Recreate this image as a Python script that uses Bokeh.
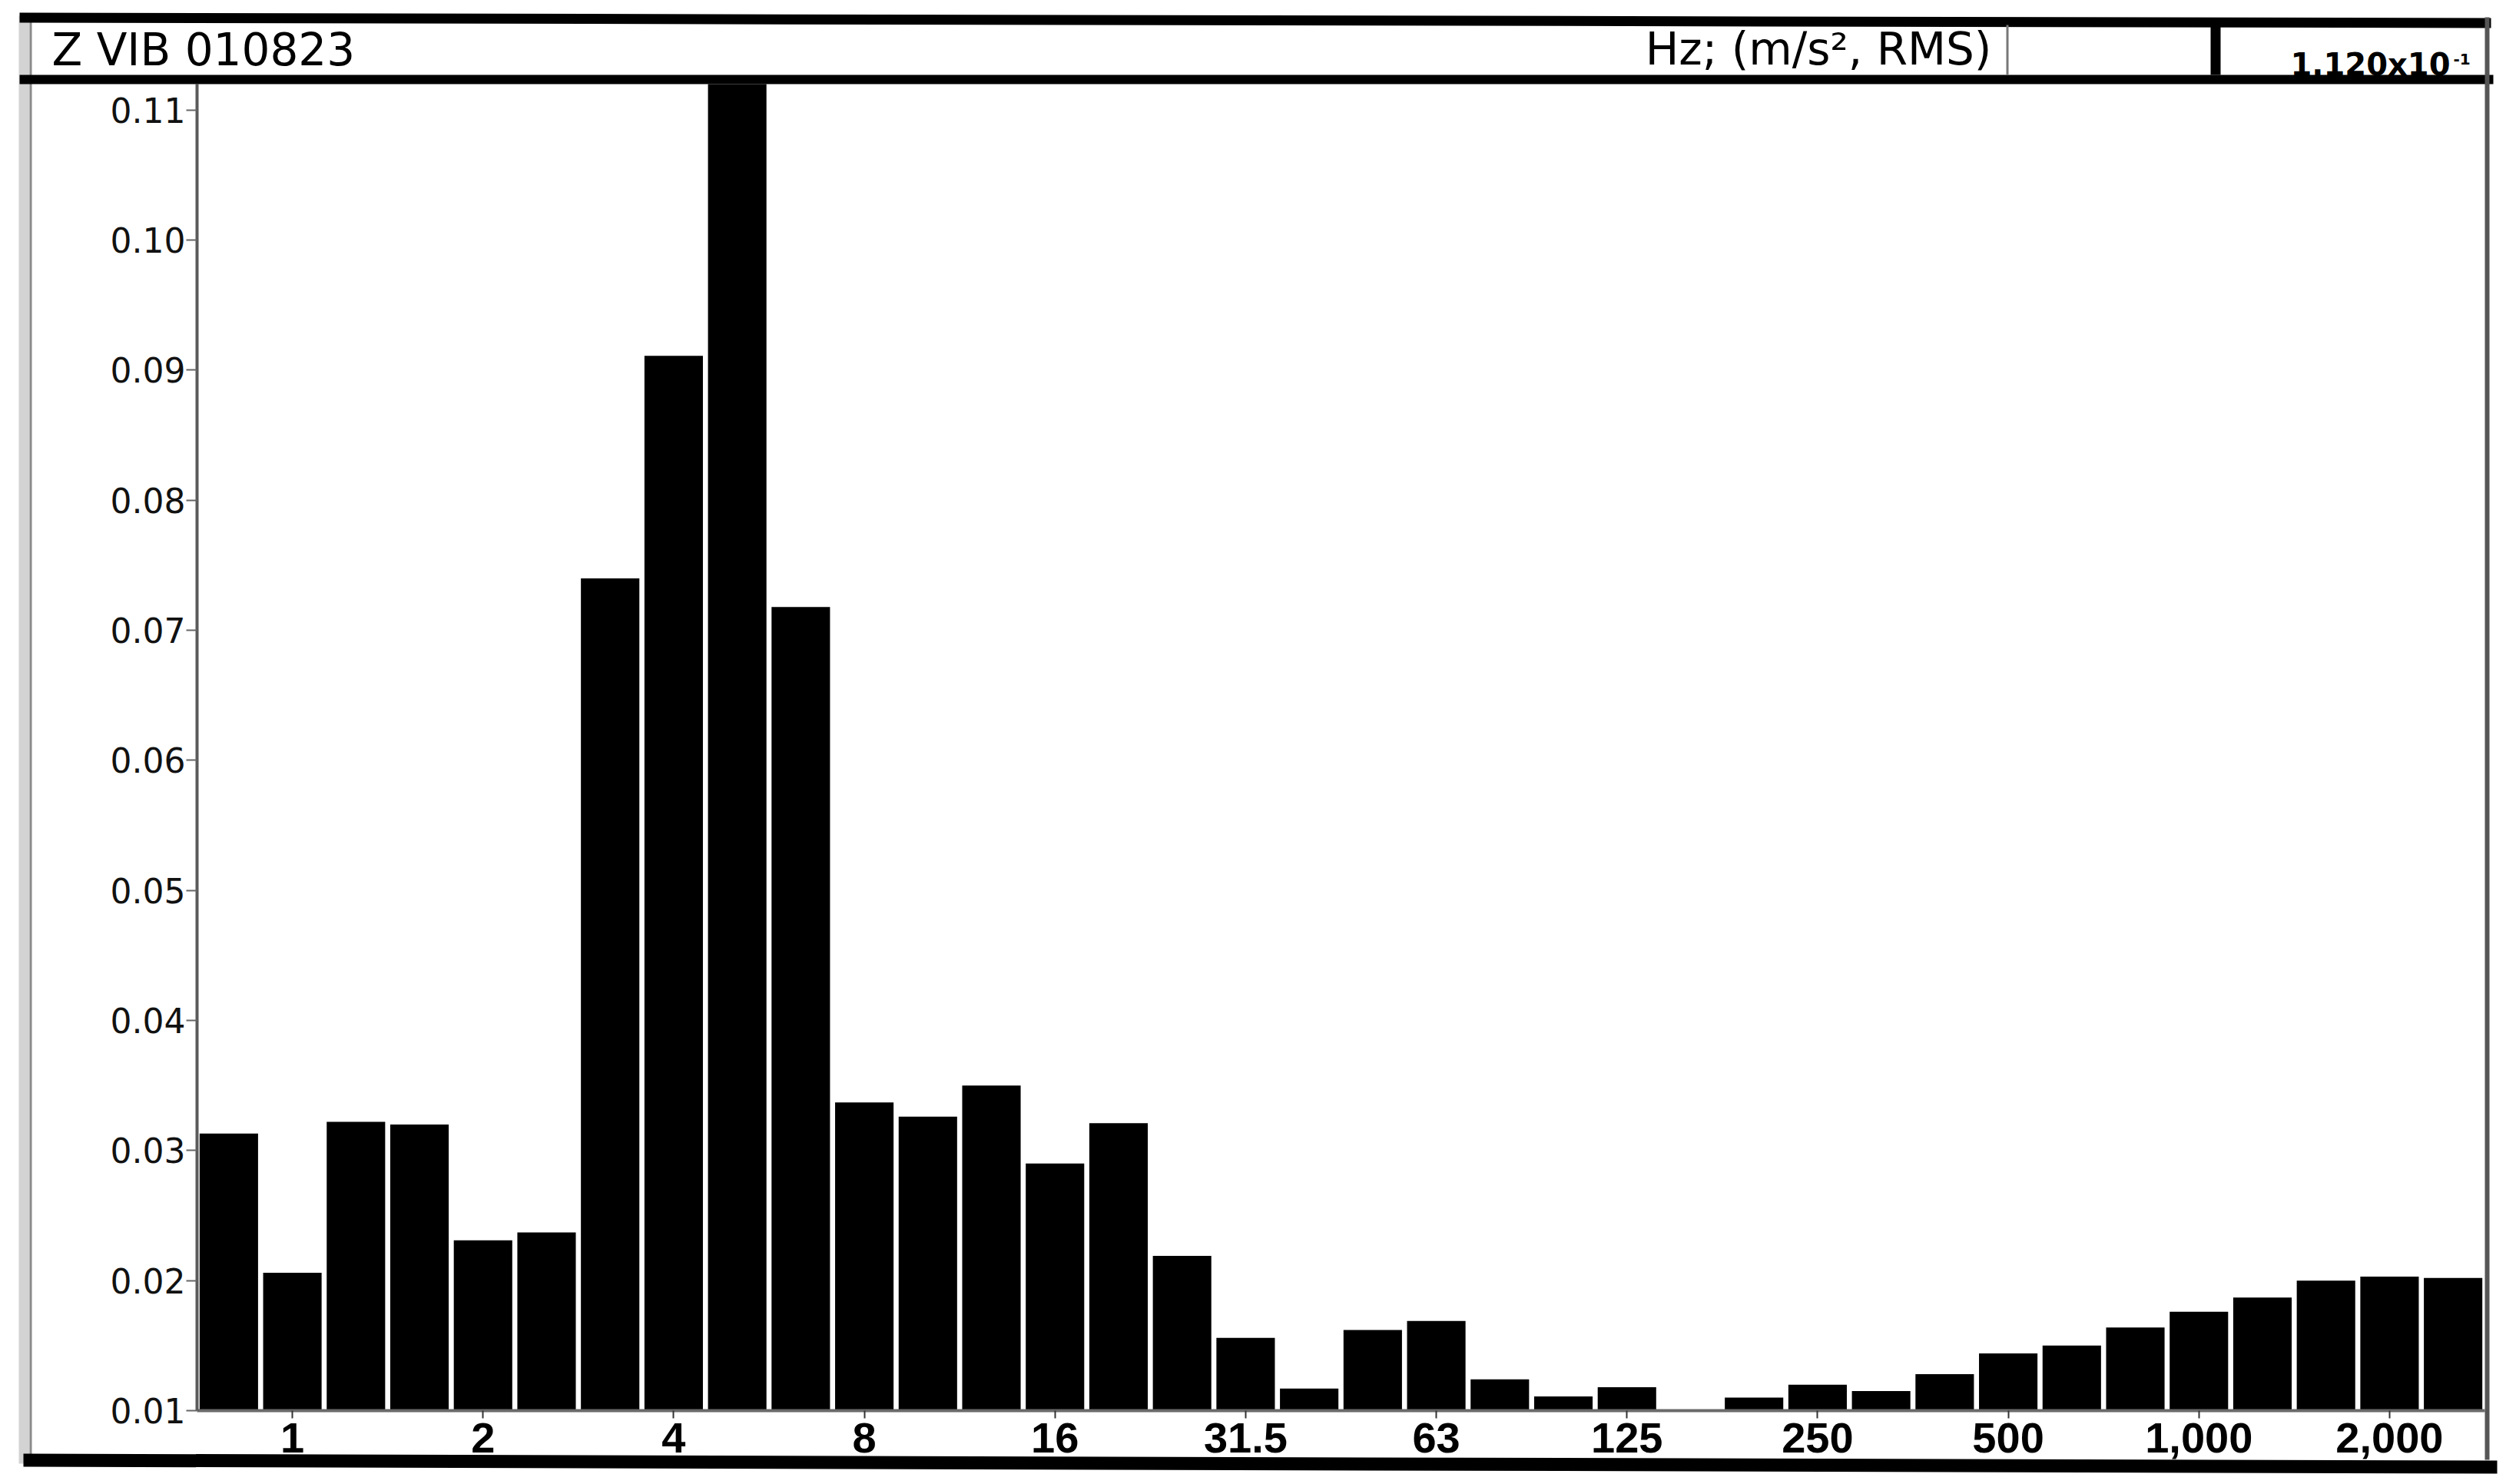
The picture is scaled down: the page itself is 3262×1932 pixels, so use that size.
from bokeh.plotting import figure
from bokeh.models import (Range1d, FixedTicker, PrintfTickFormatter, BoxAnnotation,
                          Label, PolyAnnotation, ColumnDataSource)
from bokeh.embed import file_html
from bokeh.resources import INLINE

# ---------------- data ----------------
bands = ["0.8", "1", "1.25", "1.6", "2", "2.5", "3.15", "4", "5", "6.3",
         "8", "10", "12.5", "16", "20", "25", "31.5", "40", "50", "63",
         "80", "100", "125", "160", "200", "250", "315", "400", "500", "630",
         "800", "1000", "1250", "1600", "2000", "2500"]
values = [0.0313, 0.0206, 0.0322, 0.0320, 0.0231, 0.0237, 0.0740, 0.0911, 0.1120, 0.0718,
          0.0337, 0.0326, 0.0350, 0.0290, 0.0321, 0.0219, 0.0156, 0.0117, 0.0162, 0.0169,
          0.0124, 0.0111, 0.0118, 0.0100, 0.0110, 0.0120, 0.0115, 0.0128, 0.0144, 0.0150,
          0.0164, 0.0176, 0.0187, 0.0200, 0.0203, 0.0202]
tick_bands = ["1", "2", "4", "8", "16", "31.5", "63", "125", "250", "500", "1000", "2000"]
tick_labels = ["1", "2", "4", "8", "16", "31.5", "63", "125", "250", "500", "1,000", "2,000"]
y_ticks = [0.01, 0.02, 0.03, 0.04, 0.05, 0.06, 0.07, 0.08, 0.09, 0.10, 0.11]
y_min, y_max = 0.01, 0.112

title_text = "Z VIB 010823"
unit_text = "Hz; (m/s\u00b2, RMS)"
max_text = "1.120x10"
max_exp = "-1"

# ---------------- layout (canvas pixels) ----------------
W, H = 3262, 1932
PL, PR, PT, PB = 256, 3234, 109, 1836   # plot area edges on the canvas

n = len(bands)
ux = (PR - PL) / n                     # px per band
uy = (PB - PT) / (y_max - y_min)       # px per m/s^2
x0, x1 = -0.5 - PL / ux, n - 0.5 + (W - PR) / ux
y0, y1 = y_min - (H - PB) / uy, y_max + PT / uy

src = ColumnDataSource(dict(x=list(range(n)), top=values, band=bands))

p = figure(width=W, height=H, output_backend="svg", toolbar_location=None,
           x_range=Range1d(x0, x1), y_range=Range1d(y0, y1),
           min_border=0, min_border_left=0, min_border_right=0,
           min_border_top=0, min_border_bottom=0,
           background_fill_color="white", border_fill_color="white")
p.outline_line_color = None
p.xgrid.visible = False
p.ygrid.visible = False

p.vbar(x="x", top="top", bottom=y_min, width=0.92, source=src,
       fill_color="black", line_color=None)

# y axis (fixed inside the full-canvas frame at the plot-area edge)
ya = p.yaxis[0]
ya.fixed_location = -0.5
ya.bounds = (y_min, y_max)
ya.ticker = FixedTicker(ticks=y_ticks)
ya.formatter = PrintfTickFormatter(format="%.2f")
ya.major_label_text_font = "DejaVu Sans"
ya.major_label_text_font_size = "44px"
ya.major_label_text_color = "#111111"
ya.axis_line_color = "#5a5a5a"
ya.axis_line_width = 4
ya.major_tick_out = 14
ya.major_tick_in = 0
ya.major_tick_line_color = "#666666"
ya.major_tick_line_width = 2
ya.minor_tick_line_color = None
ya.major_label_standoff = 1

# x axis
xa = p.xaxis[0]
xa.fixed_location = y_min
xa.bounds = (-0.5, n - 0.5)
tick_idx = [bands.index(b) for b in tick_bands]
xa.ticker = FixedTicker(ticks=tick_idx)
xa.major_label_overrides = {i: lab for i, lab in zip(tick_idx, tick_labels)}
xa.major_label_text_font = "Liberation Sans"
xa.major_label_text_font_style = "bold"
xa.major_label_text_font_size = "56px"
xa.major_label_text_color = "black"
xa.axis_line_color = "#6a6a6a"
xa.axis_line_width = 4
xa.major_tick_out = 10
xa.major_tick_in = 0
xa.major_tick_line_color = "#333333"
xa.major_tick_line_width = 2
xa.minor_tick_line_color = None
xa.major_label_standoff = 6


# ---------------- header / frame decorations (canvas units) ----------------
def box(l, r, t, b, color):
    p.add_layout(BoxAnnotation(left=l, right=r, top=t, bottom=b,
                               left_units="canvas", right_units="canvas",
                               top_units="canvas", bottom_units="canvas",
                               fill_color=color, fill_alpha=1.0,
                               line_color=None))


def poly(xs, ys, color):
    p.add_layout(PolyAnnotation(xs=xs, ys=ys, xs_units="canvas", ys_units="canvas",
                                fill_color=color, fill_alpha=1.0, line_color=None))


def label(x, baseline, text, size, align="left", style="normal"):
    # Label y offset: the rendered alphabetic baseline sits ~0.3 em below y
    p.add_layout(Label(x=x, y=baseline - 0.3 * size, x_units="canvas", y_units="canvas",
                       text=text, text_font="DejaVu Sans", text_font_size=f"{size}px",
                       text_font_style=style, text_color="black",
                       text_align=align, text_baseline="alphabetic"))


label(67, 82, title_text, 58)
label(2592, 81, unit_text, 58, align="right")
label(2981, 95, max_text, 40, style="bold")
label(3193, 82, max_exp, 20, style="bold")

box(24, 38, 20, 1905, "#d3d3d3")      # left grey band
box(38, 41, 28, 1905, "#8a8a8a")      # left dark edge
poly([25, 3242, 3242, 25], [16, 23, 36, 29], "black")   # top thick rule
box(25, 3245, 97, 109, "black")        # header bottom rule
box(2611, 2614, 32, 97, "#777777")     # thin header divider
box(2877, 2890, 30, 97, "black")       # thick header divider
box(3234, 3240, 22, 1900, "#555555")   # right border
poly([30, 3250, 3250, 30], [1892, 1901, 1918, 1909], "black")  # footer rule

open("out.html", "w").write(file_html(p, INLINE))
